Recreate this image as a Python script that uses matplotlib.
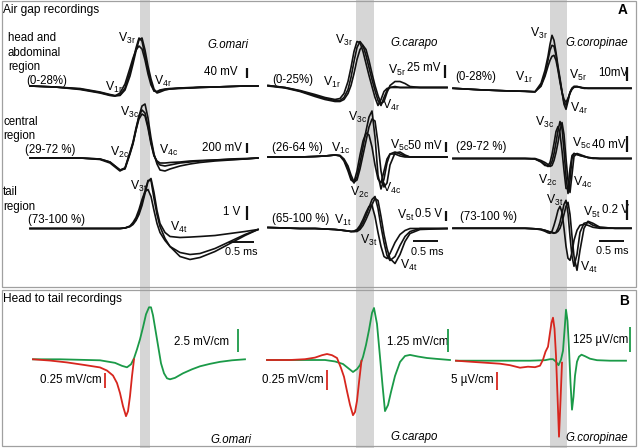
import matplotlib
matplotlib.use("Agg")
import matplotlib.pyplot as plt
from matplotlib.patches import Rectangle

plt.rcParams["font.family"] = ["Liberation Sans", "DejaVu Sans"]
plt.rcParams["mathtext.fontset"] = "custom"
plt.rcParams["mathtext.rm"] = "Liberation Sans"
plt.rcParams["mathtext.it"] = "Liberation Sans:italic"

# ---- data ---------------------------------------------------------------
SPECIES = ["G.omari", "G.carapo", "G.coropinae"]

# panel A, G.omari: time (ms) shared by the three regions
T_OMARI = [0, 0.5, 1.0, 1.4, 1.6, 1.7, 1.8, 1.9, 2.0, 2.06, 2.12, 2.18, 2.24, 2.3,
           2.36, 2.42, 2.48, 2.54, 2.6, 2.7, 2.8, 3.0, 3.2, 3.4, 3.7, 4.0, 4.3, 4.56]
OMARI_HEAD = [  # mV
    [0, -4, -12, -26, -36, -40, -36, -8, 56, 100, 152, 192, 180, 120, 64, 16, -20, -24,
     -18, -14, -12, -8, -8, -6, -4, -2, 0, 0],
    [0, -4, -14, -28, -38, -40, -28, 8, 72, 112, 144, 160, 148, 104, 48, 4, -20, -22,
     -16, -12, -10, -8, -6, -4, -4, -2, 0, 0],
    [0, -4, -10, -24, -34, -38, -38, -16, 40, 88, 140, 184, 192, 144, 80, 28, -12, -28,
     -24, -16, -12, -10, -8, -6, -4, -2, 0, 0],
]
OMARI_CENTRAL = [  # mV
    [0, 0, 0, -20, -80, -160, -240, -220, 80, 280, 560, 840, 1040, 1080, 800, 400, 80,
     -120, -240, -260, -220, -160, -120, -90, -60, -40, -20, 0],
    [0, 0, 0, -20, -80, -160, -240, -200, 120, 320, 600, 840, 960, 900, 640, 320, 60,
     -80, -140, -160, -140, -100, -80, -60, -40, -30, -20, 0],
    [0, 0, 0, -30, -100, -180, -260, -200, 100, 300, 560, 780, 880, 840, 600, 280, 40,
     -60, -100, -100, -90, -80, -60, -50, -40, -20, -10, 0],
]
OMARI_TAIL = [  # V
    [0, 0, 0, 0, 0, 0, 0, 0.035, 0.14, 0.35, 0.63, 1.12, 1.82, 2.59, 3.36, 3.36, 2.1,
     0.98, 0.14, -0.7, -1.26, -1.96, -2.17, -2.03, -1.61, -1.05, -0.49, -0.07],
    [0, 0, 0, 0, 0, 0, 0, 0.035, 0.14, 0.28, 0.56, 0.98, 1.61, 2.45, 3.29, 3.5, 2.52,
     1.26, 0.35, -0.28, -0.56, -0.63, -0.6, -0.56, -0.49, -0.35, -0.21, -0.07],
    [0, 0, 0, 0, 0, 0, 0, 0.035, 0.175, 0.42, 0.77, 1.33, 2.03, 2.59, 2.73, 2.24, 1.26,
     0.35, -0.28, -0.84, -1.26, -1.68, -1.82, -1.75, -1.4, -0.91, -0.42, -0.07],
]

# panel A, G.carapo
T_CARAPO = [0, 0.34, 0.64, 0.94, 1.14, 1.34, 1.44, 1.52, 1.6, 1.66, 1.72, 1.78, 1.84,
            1.9, 1.96, 2.02, 2.08, 2.14, 2.2, 2.26, 2.32, 2.38, 2.44, 2.54, 2.64, 2.74,
            2.84, 3.04, 3.58]
CARAPO_HEAD = [  # mV
    [4, 0, -6, -14, -20, -24, -22, -12, 12, 40, 72, 92, 90, 72, 48, 24, 2, -20, -36, -24,
     -8, -2, 0, 0, 0, 0, 0, 0, 0],
    [4, 0, -7, -16, -22, -26, -26, -20, -4, 20, 52, 80, 92, 84, 64, 40, 16, -6, -26, -36,
     -20, -6, 0, 2, 0, 0, 0, 0, 0],
    [3, -1, -8, -18, -24, -28, -28, -24, -12, 4, 28, 56, 76, 84, 76, 54, 28, 4, -16, -32,
     -28, -10, 4, 12, 12, 8, 2, 0, 0],
]
CARAPO_CENTRAL = [  # mV
    [0, 0, 0, 2.5, 5, 10, 7.5, -15, -60, -105, -130, -100, -30, 50, 130, 200, 230, 100,
     -90, -160, -110, -30, 15, 25, 15, 5, 0, 0, 0],
    [0, 0, 0, 2.5, 5, 10, 7.5, -10, -45, -90, -125, -115, -60, 10, 80, 150, 190, 180, 70,
     -70, -150, -130, -40, 20, 25, 10, 0, 0, 0],
    [0, 0, 0, 2.5, 5, 10, 5, -20, -70, -115, -125, -70, 10, 80, 120, 110, 50, -40, -110,
     -130, -70, -10, 15, 15, 5, 0, 0, 0, 0],
]
CARAPO_TAIL = [  # V
    [0.05, 0.025, 0, 0, -0.025, -0.05, -0.075, -0.1, -0.125, -0.15, -0.15, -0.1, 0.05,
     0.3, 0.65, 1.05, 1.45, 1.6, 1.0, 0.1, -0.7, -1.35, -1.6, -1.4, -0.85, -0.4, -0.15,
     0, 0],
    [0.05, 0.025, 0, 0, -0.025, -0.05, -0.075, -0.1, -0.125, -0.15, -0.125, -0.05, 0.15,
     0.45, 0.8, 1.1, 1.15, 0.6, -0.2, -0.9, -1.4, -1.5, -1.25, -0.7, -0.3, -0.1, 0, 0, 0],
    [0.05, 0.025, 0, 0, -0.025, -0.05, -0.075, -0.1, -0.125, -0.15, -0.15, -0.15, -0.05,
     0.15, 0.45, 0.8, 1.2, 1.5, 1.4, 0.6, -0.3, -1.0, -1.5, -1.75, -1.3, -0.65, -0.25,
     -0.05, 0],
]

# panel A, G.coropinae
T_COROPINAE = [0, 0.54, 1.04, 1.44, 1.64, 1.76, 1.84, 1.9, 1.94, 1.98, 2.02, 2.06, 2.1,
               2.14, 2.18, 2.22, 2.26, 2.3, 2.34, 2.38, 2.42, 2.48, 2.54, 2.62, 2.7, 2.8,
               2.94, 3.24, 3.56]
COROPINAE_HEAD = [  # mV
    [0, -1.05, -1.75, -2.1, -2.45, 3.5, 12.6, 22.4, 30.8, 37.1, 33.6, 25.2, 15.4, 7,
     -2.1, -11.2, -14.7, -9.1, -2.8, 0, 1.4, 1.4, 0.7, 0.35, 0, 0, 0, 0, 0],
    [0, -1.05, -1.75, -2.1, -2.45, 2.1, 9.8, 19.6, 26.6, 30.1, 29.4, 23.1, 14, 5.6,
     -2.8, -9.8, -11.9, -7.7, -2.8, 0, 1.05, 1.05, 0.7, 0, 0, 0, 0, 0, 0],
    [0, -1.05, -1.75, -2.1, -2.45, 1.4, 8.4, 15.4, 19.6, 22.4, 23.1, 19.6, 12.6, 4.2,
     -2.8, -7.7, -9.8, -7, -3.5, -0.7, 0.7, 1.05, 0.7, 0, 0, 0, 0, 0, 0],
]
COROPINAE_CENTRAL = [  # mV
    [0, 0, 0, 0, -1.25, -7.5, -15, -20, -17.5, -7.5, 12.5, 40, 70, 92.5, 75, 20, -45,
     -87.5, -55, 0, 12.5, 10, 7.5, 5, 2.5, 1.25, 0, 0, 0],
    [0, 0, 0, 0, -1.25, -8.75, -17.5, -17.5, -10, 10, 37.5, 67.5, 80, 62.5, 20, -30,
     -75, -75, -25, 7.5, 12.5, 10, 7.5, 5, 2.5, 0, 0, 0, 0],
    [0, 0, 0, 0, 0, -5, -10, -15, -20, -17.5, -5, 15, 40, 70, 90, 60, 0, -55, -85, -40,
     5, 12.5, 10, 6.25, 2.5, 1.25, 0, 0, 0],
]
COROPINAE_TAIL = [  # V
    [0, 0, 0, 0, -0.005, -0.01, -0.02, -0.03, -0.04, -0.045, -0.05, -0.04, 0, 0.06,
     0.15, 0.24, 0.28, 0.15, -0.08, -0.28, -0.38, -0.26, -0.04, 0.05, 0.06, 0.03, 0.01,
     0, 0],
    [0, 0, 0, 0, -0.005, -0.01, -0.02, -0.03, -0.035, -0.04, -0.045, -0.045, -0.03, 0,
     0.06, 0.14, 0.22, 0.26, 0.14, -0.08, -0.28, -0.42, -0.22, 0, 0.07, 0.05, 0.01, 0, 0],
    [0, 0, 0, 0, -0.005, -0.015, -0.03, -0.045, -0.05, -0.03, 0.03, 0.1, 0.18, 0.22,
     0.16, 0, -0.18, -0.3, -0.32, -0.24, -0.12, -0.02, 0.03, 0.04, 0.03, 0.01, 0, 0, 0],
]

# panel B, head to tail recordings (green = head-tail, red = second lead)
B_OMARI_GREEN_T = [0.06, 0.6, 1.4, 1.7, 1.84, 1.94, 2.02, 2.08, 2.14, 2.2, 2.26, 2.32,
                   2.38, 2.42, 2.46, 2.5, 2.56, 2.62, 2.68, 2.74, 2.8, 2.9, 3.06, 3.24,
                   3.4, 3.6, 3.8, 4.04, 4.3]
B_OMARI_GREEN = [0, 0, -0.11, -0.39, -0.72, -0.88, -0.55, 0.11, 1.1, 2.2, 3.52, 4.95,
                 5.72, 5.72, 4.84, 3.52, 1.54, -0.44, -1.54, -2.09, -2.2, -2.04, -1.54,
                 -1.1, -0.77, -0.5, -0.28, -0.11, 0]  # mV/cm
B_OMARI_RED_T = [0.06, 0.4, 0.74, 1.08, 1.4, 1.54, 1.66, 1.74, 1.8, 1.86, 1.92, 1.96,
                 2.0, 2.04, 2.08]
B_OMARI_RED = [0, -0.02, -0.05, -0.09, -0.13, -0.18, -0.26, -0.38, -0.54, -0.75, -0.91,
               -0.83, -0.59, -0.27, 0]  # mV/cm

B_CARAPO_GREEN_T = [-0.02, 0.44, 0.84, 1.14, 1.34, 1.5, 1.6, 1.7, 1.78, 1.84, 1.9, 1.96,
                    2.02, 2.08, 2.12, 2.18, 2.24, 2.29, 2.34, 2.4, 2.46, 2.54, 2.64,
                    2.74, 2.84, 3.0, 3.18, 3.38, 3.64]
B_CARAPO_GREEN = [0, 0, 0, 0, -0.08, -0.22, -0.44, -0.66, -0.5, -0.28, 0.17, 0.83, 1.65,
                  2.59, 2.86, 1.98, 0.17, -1.38, -2.81, -2.48, -1.76, -0.88, -0.11, 0.22,
                  0.28, 0.19, 0.11, 0.06, 0]  # mV/cm
B_CARAPO_RED_T = [-0.02, 0.44, 0.74, 0.94, 1.08, 1.18, 1.28, 1.38, 1.46, 1.52, 1.58,
                  1.64, 1.7, 1.74, 1.78, 1.82, 1.87]
B_CARAPO_RED = [0, 0, 0.01, 0.03, 0.06, 0.075, 0.06, 0.025, -0.1, -0.21, -0.39, -0.56,
                -0.69, -0.65, -0.51, -0.28, -0.01]  # mV/cm

B_COROPINAE_GREEN_T = [0.06, 0.54, 1.14, 1.54, 1.84, 1.94, 2.0, 2.06, 2.11, 2.16, 2.2,
                       2.23, 2.26, 2.29, 2.32, 2.35, 2.38, 2.41, 2.44, 2.48, 2.52, 2.57,
                       2.64, 2.74, 2.88, 3.14, 3.46]
B_COROPINAE_GREEN = [0, 0, 0, 0, 2.5, 7.5, 7.5, -5, -22.5, 5, 50, 150, 255, 200, 60,
                     -110, -245, -180, -75, -5, 20, 30, 22.5, 10, 2.5, 0, 0]  # uV/cm
B_COROPINAE_RED_T = [0.06, 0.34, 0.64, 0.94, 1.14, 1.34, 1.5, 1.64, 1.74, 1.8, 1.85,
                     1.9, 1.94, 1.97, 2.0, 2.03, 2.06, 2.09, 2.12, 2.15, 2.18]
B_COROPINAE_RED = [0, -0.28, -0.56, -0.84, -1.26, -1.96, -1.68, -1.82, -1.4, 0.28, 2.52,
                   3.92, 7.84, 10.64, 12.04, 8.96, 1.4, -9.8, -21.28, -11.2, -0.56]  # uV/cm

A_BARS = [[(40, "40 mV"), (200, "200 mV"), (1, "1 V")],
          [(25, "25 mV"), (50, "50 mV"), (0.5, "0.5 V")],
          [(10, "10mV"), (40, "40 mV"), (0.2, "0.2 V")]]
B_BARS = [[(2.5, "2.5 mV/cm"), (0.25, "0.25 mV/cm")],
          [(1.25, "1.25 mV/cm"), (0.25, "0.25 mV/cm")],
          [(125, "125 \u00b5V/cm"), (5, "5 \u00b5V/cm")]]
REGION_LABELS = [["(0-28%)", "(29-72 %)", "(73-100 %)"],
                 ["(0-25%)", "(26-64 %)", "(65-100 %)"],
                 ["(0-28%)", "(29-72 %)", "(73-100 %)"]]

# ---- layout (pixels of the 638 x 448 picture) ---------------------------
W, H = 638, 448
PX_PER_MS = 50.0
COL_X0 = [30, 268, 453]
BANDS_MS = [(2.2, 2.4), (1.76, 2.12), (1.94, 2.28)]
A_BASE = [[86, 158, 228.5], [87.5, 157, 228.5], [88.3, 158.5, 228.3]]
A_GAIN = [[0.25, 0.05, 1 / 0.07], [0.5, 0.2, 20], [1 / 0.7, 0.4, 100]]  # px per unit
A_BAR_POS = [[(247, 78), (247, 153), (247, 220)],
             [(445, 78), (445.5, 152), (445.5, 221)],
             [(626.5, 81), (626.5, 152), (626.5, 220)]]
A_BAR_TEXT = [[(238, 72, "right"), (242, 148, "right"), (240, 212, "right")],
              [(407, 68, "left"), (408, 146, "left"), (415, 214, "left")],
              [(598, 73, "left"), (592, 145, "left"), (602, 210, "left")]]
MS_BAR = [(229, 242.5, 241.5, 252), (413, 241.5, 427.5, 252), (599, 241.5, 612, 251)]
REGION_POS = [[(26, 81), (25, 150), (28, 220)],
              [(272, 80), (272, 148), (272, 219)],
              [(455, 77), (456, 147), (460, 217)]]
B_BASE = [359.3, 360, 360.7]
B_GAIN = [(1 / 0.11, 1 / 0.016), (1 / 0.055, 80), (0.2, 1 / 0.28)]
B_BAR_POS = [[(237.5, 352), (104.5, 388.5)], [(448, 352), (326.5, 390)],
             [(630, 352), (497, 390)]]
B_BAR_TEXT = [[(174, 342), (40, 380)], [(387, 342), (262, 380)], [(573, 340), (451, 380)]]

V_LABELS = [
    ("3r", 118, 38), ("1r", 105, 87), ("4r", 154, 81), ("3c", 120, 112), ("2c", 110, 152),
    ("4c", 159, 150), ("3t", 130, 186), ("4t", 170, 227),
    ("3r", 335, 40), ("1r", 323, 82), ("5r", 388, 70), ("4r", 382, 105), ("3c", 348, 117),
    ("1c", 331, 148), ("5c", 390, 145), ("2c", 350, 192), ("4c", 382, 188), ("1t", 334, 220),
    ("5t", 397, 215), ("3t", 360, 240), ("4t", 400, 265),
    ("3r", 530, 33), ("1r", 515, 77), ("5r", 569, 75), ("4r", 570, 108), ("3c", 535, 122),
    ("5c", 572, 143), ("2c", 538, 180), ("4c", 573, 182), ("3t", 546, 200), ("5t", 583, 212),
    ("4t", 580, 267),
]

BLACK = "#111111"
RED = "#d7261e"
GREEN = "#1b9a48"
BAND = "#d6d6d6"
FRAME = "#a0a0a0"
FS = 8.3

fig = plt.figure(figsize=(W / 100, H / 100), dpi=100)


def overlay(x0, ybase, gain):
    # transparent full-figure axes: time in ms, amplitude in recorded units
    ax = fig.add_axes([0, 0, 1, 1])
    ax.set_xlim(-x0 / PX_PER_MS, (W - x0) / PX_PER_MS)
    ax.set_ylim(-(H - ybase) / gain, ybase / gain)
    ax.axis("off")
    return ax


for x0, (b0, b1) in zip(COL_X0, BANDS_MS):
    overlay(x0, H / 2, 1).axvspan(b0, b1, color=BAND, lw=0)

bg = fig.add_axes([0, 0, 1, 1])
bg.set_xlim(0, W)
bg.set_ylim(H, 0)
bg.axis("off")
bg.add_patch(Rectangle((1.5, 1.5), 634.5, 285.5, fill=False, ec=FRAME, lw=0.9))
bg.add_patch(Rectangle((1.5, 290), 634.5, 156.5, fill=False, ec=FRAME, lw=0.9))


def to_data(ax, x, y):
    return ax.transData.inverted().transform(bg.transData.transform((x, y)))


def vbar(ax, x, y, value, color, lw):
    t, v = to_data(ax, x, y)
    ax.plot([t, t], [v, v + value], color=color, lw=lw, solid_capstyle="butt")


A_T = [T_OMARI, T_CARAPO, T_COROPINAE]
A_TRACES = [[OMARI_HEAD, OMARI_CENTRAL, OMARI_TAIL],
            [CARAPO_HEAD, CARAPO_CENTRAL, CARAPO_TAIL],
            [COROPINAE_HEAD, COROPINAE_CENTRAL, COROPINAE_TAIL]]

for c in range(3):
    for r in range(3):
        ax = overlay(COL_X0[c], A_BASE[c][r], A_GAIN[c][r])
        for trace in A_TRACES[c][r]:
            ax.plot(A_T[c], trace, color=BLACK, lw=1.2, solid_joinstyle="round")
        value, label = A_BARS[c][r]
        vbar(ax, *A_BAR_POS[c][r], value, BLACK, 1.6)
        tx, ty, ha = A_BAR_TEXT[c][r]
        bg.text(tx, ty, label, ha=ha, va="center", fontsize=FS)
        bg.text(*REGION_POS[c][r], REGION_LABELS[c][r], ha="left", va="center", fontsize=FS)
        if r == 2:
            bx, by, lx, ly = MS_BAR[c]
            t, v = to_data(ax, bx, by)
            ax.plot([t, t + 0.5], [v, v], color=BLACK, lw=1.4, solid_capstyle="butt")
            bg.text(lx, ly, "0.5 ms", ha="center", va="center", fontsize=FS - 0.5)

B_DATA = [(B_OMARI_GREEN_T, B_OMARI_GREEN, B_OMARI_RED_T, B_OMARI_RED),
          (B_CARAPO_GREEN_T, B_CARAPO_GREEN, B_CARAPO_RED_T, B_CARAPO_RED),
          (B_COROPINAE_GREEN_T, B_COROPINAE_GREEN, B_COROPINAE_RED_T, B_COROPINAE_RED)]

for c in range(3):
    gt, gv, rt, rv = B_DATA[c]
    g_ax = overlay(COL_X0[c], B_BASE[c], B_GAIN[c][0])
    r_ax = overlay(COL_X0[c], B_BASE[c], B_GAIN[c][1])
    r_ax.plot(rt, rv, color=RED, lw=1.3)
    g_ax.plot(gt, gv, color=GREEN, lw=1.3)
    for ax, color, k in ((g_ax, GREEN, 0), (r_ax, RED, 1)):
        vbar(ax, *B_BAR_POS[c][k], B_BARS[c][k][0], color, 1.3)
        bg.text(*B_BAR_TEXT[c][k], B_BARS[c][k][1], ha="left", va="center", fontsize=FS)

for sub, x, y in V_LABELS:
    bg.text(x, y, r"V$_{\mathrm{%s}}$" % sub, ha="left", va="center", fontsize=FS + 0.5)

bg.text(3, 10, "Air gap recordings", ha="left", va="center", fontsize=FS + 0.3)
bg.text(3, 299, "Head to tail recordings", ha="left", va="center", fontsize=FS + 0.3)
bg.text(623, 10, "A", ha="center", va="center", fontsize=FS + 1.5, weight="bold")
bg.text(624, 301, "B", ha="center", va="center", fontsize=FS + 1.5, weight="bold")
for lines, x, ys in ((["head and", "abdominal", "region"], 8, [38, 53, 67]),
                     (["central", "region"], 3, [122, 136]),
                     (["tail", "region"], 3, [192, 207])):
    for line, y in zip(lines, ys):
        bg.text(x, y, line, ha="left", va="center", fontsize=FS)
for name, x, y in zip(SPECIES, [207, 390, 565], [45, 43, 43]):
    bg.text(x, y, name, ha="left", va="center", fontsize=FS, style="italic")
for name, x, y in zip(SPECIES, [210, 390, 565], [440, 437, 438]):
    bg.text(x, y, name, ha="left", va="center", fontsize=FS, style="italic")

fig.savefig("out.png", dpi=100)
plt.close(fig)
